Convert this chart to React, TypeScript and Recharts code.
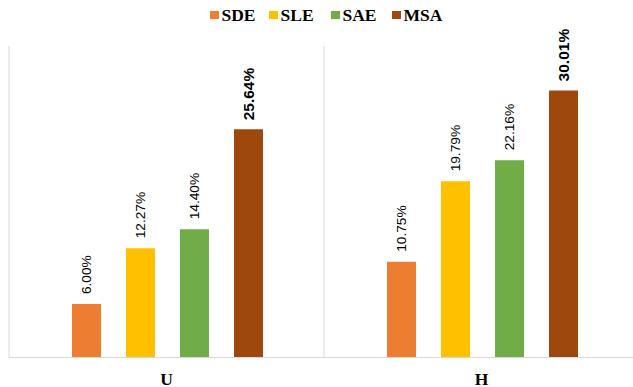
import { Bar, BarChart, CartesianGrid, LabelList, XAxis, YAxis } from "recharts"

const categories = ["U", "H"]
const seriesNames = ["SDE", "SLE", "SAE", "MSA"]
const seriesColors = ["#ED7D31", "#FFC000", "#70AD47", "#9E480E"]
const sdeValues = [6.0, 10.75]
const sleValues = [12.27, 19.79]
const saeValues = [14.4, 22.16]
const msaValues = [25.64, 30.01]

const seriesValues = [sdeValues, sleValues, saeValues, msaValues]

const data = categories.map((name, i) => {
  const row: Record<string, string | number> = { name }
  seriesNames.forEach((s, j) => {
    row[s] = seriesValues[j][i]
  })
  return row
})

const gridColor = "#d9d9d9"
const serif = "Liberation Serif"
const sans = "Liberation Sans"

function makeLabel(bold: boolean) {
  return function BarLabel(props: any) {
    const { x, y, width, value } = props
    const cx = Number(x) + Number(width) / 2
    const top = Number(y) - (bold ? 9 : 10)
    return (
      <text
        x={cx}
        y={top}
        transform={`rotate(-90, ${cx}, ${top})`}
        textAnchor="start"
        dominantBaseline="central"
        fontFamily={sans}
        fontSize={bold ? 15.5 : 13.7}
        fontWeight={bold ? 700 : 400}
        fill="#000"
      >
        {Number(value).toFixed(2)}%
      </text>
    )
  }
}

function CategoryTick(props: any) {
  const { x, y, payload } = props
  return (
    <text
      x={x}
      y={Number(y) + 27}
      textAnchor="middle"
      fontFamily={serif}
      fontSize={17.5}
      fontWeight={700}
      fill="#000"
    >
      {payload.value}
    </text>
  )
}

export default function App() {
  return (
    <div
      style={{
        position: "absolute",
        left: 0,
        top: 0,
        width: 633,
        height: 387,
        overflow: "hidden",
        background: "#fff",
      }}
    >
      <svg
        width={633}
        height={30}
        style={{ position: "absolute", left: 0, top: 0 }}
      >
        {seriesNames.map((s, i) => {
          const starts = [210, 269, 331, 392]
          const sx = starts[i]
          return (
            <g key={s}>
              <rect x={sx} y={11} width={9} height={8} fill={seriesColors[i]} />
              <text
                x={sx + 11.5}
                y={21}
                fontFamily={serif}
                fontSize={17.5}
                fontWeight={700}
                fill="#000"
              >
                {s}
              </text>
            </g>
          )
        })}
      </svg>
      <BarChart
        width={645}
        height={387}
        data={data}
        margin={{ top: 46, right: 6, bottom: 0, left: 9 }}
        barCategoryGap="20%"
        barGap={25}
        style={{ position: "absolute", left: 0, top: 0 }}
      >
        <CartesianGrid
          stroke={gridColor}
          strokeWidth={1}
          horizontal={false}
          verticalCoordinatesGenerator={({ offset }: any) => [
            offset.left,
            offset.left + offset.width / 2,
            offset.left + offset.width,
          ]}
        />
        <XAxis
          dataKey="name"
          height={29.5}
          axisLine={{ stroke: gridColor }}
          tickLine={false}
          tickSize={0}
          tickMargin={0}
          tick={<CategoryTick />}
        />
        <YAxis hide domain={[0, 35]} />
        {seriesNames.map((s, i) => (
          <Bar key={s} dataKey={s} fill={seriesColors[i]} isAnimationActive={false}>
            <LabelList dataKey={s} content={makeLabel(s === "MSA")} />
          </Bar>
        ))}
      </BarChart>
    </div>
  )
}
